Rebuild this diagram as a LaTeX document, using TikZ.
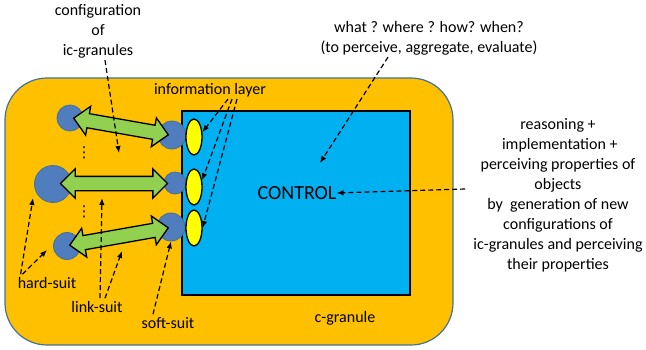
\documentclass[tikz,border=0pt]{standalone}
\usepackage{fontspec}
\setmainfont{Carlito}
\newfontfamily\dejavu{DejaVu Sans}
\usepackage{xcolor}
\usetikzlibrary{calc,arrows.meta,shapes.arrows,shapes.geometric}
\definecolor{gran}{HTML}{FFC000}
\definecolor{rim}{HTML}{41719C}
\definecolor{ctrl}{HTML}{00B0F0}
\definecolor{icg}{HTML}{4F7DBD}
\definecolor{layer}{HTML}{FFFF00}
\definecolor{linkg}{HTML}{92D050}
\tikzset{
  granule/.style={draw=rim, fill=gran, line width=1.2pt, rounded corners=42pt},
  ctrlbox/.style={draw=black, fill=ctrl, line width=1.6pt},
  icgr/.style={circle, fill=icg, draw=rim, line width=0.8pt, inner sep=0pt},
  lay/.style={ellipse, fill=layer, draw=black, line width=1.3pt, minimum width=16pt, minimum height=36pt, inner sep=0pt},
  link/.style={double arrow, draw=black, fill=linkg, line width=1.3pt, inner xsep=0pt, inner ysep=6.5pt, double arrow head extend=7.5pt},
  ptr/.style={draw=black, dash pattern=on 5pt off 3pt, line width=1.2pt, -{Latex[length=7pt,width=5.5pt]}},
  lab/.style={text=black, font=\fontsize{16}{20}\selectfont, align=center, inner sep=0pt},
  vdot/.style={text=black, font=\dejavu\fontsize{15}{15}\selectfont, inner sep=0pt},
}

\begin{document}
\begin{tikzpicture}[x=1pt, y=-1pt]
  \useasboundingbox (0,0) rectangle (646,349);
  \draw[granule] (5,78) rectangle (453,345);
  \draw[ctrlbox] (182,111) rectangle (410,295);
  \node[lab, font=\fontsize{20}{24}\selectfont] (ctrltxt) at (297,193) {CONTROL};
  \node[lab] (cgran) at (345,318) {c-granule};

  \node[icgr, minimum size=26pt] (g1) at (70,118) {};
  \node[icgr, minimum size=37pt] (g2) at (53,184) {};
  \node[icgr, minimum size=27pt] (g3) at (67,246) {};
  \node[icgr, minimum size=28pt] (r1) at (172,135) {};
  \node[icgr, minimum size=22pt] (r2) at (175,183) {};
  \node[icgr, minimum size=28pt] (r3) at (171,227) {};
  \node[lay] (l1) at (194,137) {};
  \node[lay] (l2) at (194,187) {};
  \node[lay] (l3) at (194,228) {};
  \node[link, minimum height=96pt, rotate=-10] (a1) at ($(g1)!0.5!(r1)$) {};
  \node[link, minimum height=107pt] (a2) at ($(g2)!0.5!(r2)$) {};
  \node[link, minimum height=100pt, rotate=10] (a3) at ($(g3)!0.5!(r3)$) {};
  \node[vdot] (dots1) at (84,153) {⋮};
  \node[vdot] (dots2) at (84,212) {⋮};

  \node[lab] (cfg) at (98,31) {configuration\\of\\ic-granules};
  \node[lab] (info) at (210,90) {information layer};
  \node[lab] (what) at (429,38) {what ? where ? how? when?\\(to perceive, aggregate, evaluate)};
  \node[lab] (reason) at (558,195) {reasoning +\\ \ implementation +\\perceiving properties of\\objects\\by\ \ generation of new\\configurations of\\ic-granules and perceiving\\their properties};
  \node[lab] (hard) at (47,283) {hard-suit};
  \node[lab] (linksuit) at (97,307) {link-suit};
  \node[lab] (soft) at (168,323) {soft-suit};

  \coordinate (cfgend) at (119,153);
  \coordinate (whatend) at (320,163);
  \coordinate (hardend1) at (33,198);
  \coordinate (hardend2) at (47,250);
  \coordinate (linkend1) at (102,198);
  \coordinate (linkend2) at (122,251);

  \draw[ptr] ($(cfg.south)+(7,2)$) -- (cfgend);
  \draw[ptr] ($(info.south)+(18,2)$) -- (l1.30);
  \draw[ptr] ($(info.south)+(22,2)$) -- (l2.40);
  \draw[ptr] ($(info.south)+(27,2)$) -- (l3.east);
  \draw[ptr] ($(what.south)+(-41,2)$) -- (whatend);
  \draw[ptr] ($(reason.west)+(-8,-6)$) -- (ctrltxt.east);
  \draw[ptr] ($(hard.north west)+(3,-3)$) -- (hardend1);
  \draw[ptr] ($(hard.north west)+(5,-3)$) -- (hardend2);
  \draw[ptr] ($(linksuit.north)+(3,-3)$) -- (linkend1);
  \draw[ptr] ($(linksuit.north)+(8,-3)$) -- (linkend2);
  \draw[ptr] ($(soft.north)+(-15,-3)$) -- (r3.south);
\end{tikzpicture}
\end{document}
